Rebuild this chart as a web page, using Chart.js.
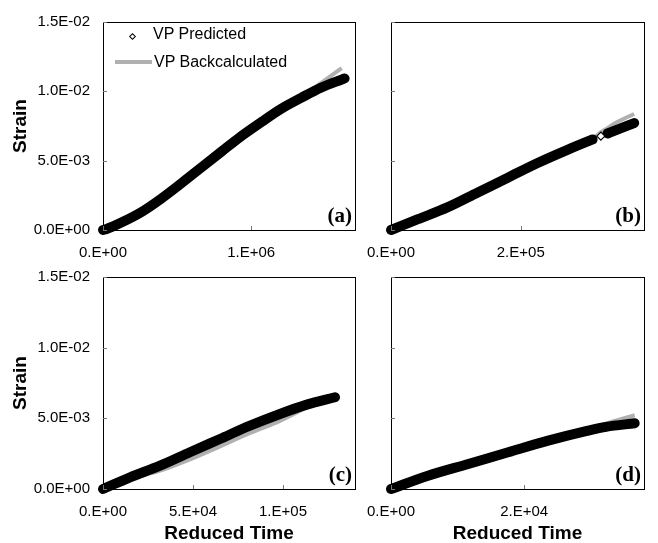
<!DOCTYPE html>
<html>
<head>
<meta charset="utf-8">
<script src="https://cdn.jsdelivr.net/npm/chart.js@4.4.1/dist/chart.umd.min.js"></script>
<style>
  html, body { margin: 0; padding: 0; background: #fff; }
  #wrap { position: relative; width: 658px; height: 543px; overflow: hidden;
          font-family: "Liberation Sans", Arial, sans-serif; color: #000; }
  .layer { position: absolute; left: 0; top: 0; width: 658px; height: 543px; }
  .tag { position: absolute; font: bold 21px "Liberation Serif", "Times New Roman", serif; line-height: 1; }
  .leg { position: absolute; font-size: 16px; line-height: 16px; white-space: nowrap; }
  .diamond { position: absolute; width: 3px; height: 3px; border: 1px solid #000; background: #fff;
             transform: rotate(45deg); }
  .greyline { position: absolute; height: 4px; background: #b0b0b0; }
</style>
</head>
<body>
<div id="wrap">
  <div class="layer"><canvas id="chartA"></canvas></div>
  <div class="layer"><canvas id="chartB"></canvas></div>
  <div class="layer"><canvas id="chartC"></canvas></div>
  <div class="layer"><canvas id="chartD"></canvas></div>

  <!-- legend (inside panel a) -->
  <div class="diamond" style="left:130px; top:34px;"></div>
  <div class="leg" style="left:153px; top:26px;">VP Predicted</div>
  <div class="greyline" style="left:115px; top:60px; width:37px;"></div>
  <div class="leg" style="left:154px; top:54px;">VP Backcalculated</div>

  <div class="tag" style="right:306px; top:205px;">(a)</div>
  <div class="tag" style="right:17px;  top:205px;">(b)</div>
  <div class="tag" style="right:306px; top:464px;">(c)</div>
  <div class="tag" style="right:17px;  top:464px;">(d)</div>
</div>

<script>
/* ══════════════════════════════
   DATA
══════════════════════════════ */
const strainTicks = [0, 0.005, 0.010, 0.015];

// (a)
const timeA  = [0, 2.0e4, 1.2e5, 2.6e5, 3.9e5, 5.3e5, 6.6e5, 8.0e5, 9.3e5, 1.07e6, 1.20e6, 1.34e6, 1.47e6, 1.61e6, 1.63e6];
const predA  = [0, 6e-5, 5.2e-4, 1.30e-3, 2.24e-3, 3.38e-3, 4.48e-3, 5.66e-3, 6.75e-3, 7.80e-3, 8.73e-3, 9.55e-3, 1.026e-2, 1.085e-2, 1.093e-2];
const backA  = [0, 6e-5, 5.2e-4, 1.30e-3, 2.24e-3, 3.38e-3, 4.48e-3, 5.66e-3, 6.75e-3, 7.80e-3, 8.73e-3, 9.62e-3, 1.060e-2, 1.168e-2, null];
const xTicksA = [0, 1e6];

// (b)  (index 8 = the lone open diamond in the gap)
const timeB  = [0, 4.15e4, 8.77e4, 1.338e5, 1.80e5, 2.26e5, 2.72e5, 3.108e5, 3.235e5, 3.338e5, 3.44e5, 3.749e5];
const predB  = [0, 7.8e-4, 1.65e-3, 2.71e-3, 3.77e-3, 4.83e-3, 5.78e-3, 6.53e-3, 6.77e-3, 6.96e-3, 7.15e-3, 7.71e-3];
const backB  = [0, 7.8e-4, 1.65e-3, 2.71e-3, 3.77e-3, 4.83e-3, 5.78e-3, 6.58e-3, 7.05e-3, 7.35e-3, 7.67e-3, 8.37e-3];
const xTicksB = [0, 2e5];

// (c)
const timeC  = [0, 1.5e4, 3.17e4, 4.83e4, 6.5e4, 8.17e4, 9.83e4, 1.132e5, 1.289e5];
const predC  = [0, 8.3e-4, 1.65e-3, 2.60e-3, 3.54e-3, 4.48e-3, 5.31e-3, 5.97e-3, 6.49e-3];
const backC  = [0, 7.0e-4, 1.30e-3, 2.10e-3, 3.02e-3, 3.96e-3, 4.82e-3, 5.75e-3, 6.47e-3];
const xTicksC = [0, 5e4, 1e5];

// (d)
const timeD  = [0, 5.56e3, 1.16e4, 1.76e4, 2.36e4, 2.96e4, 3.23e4, 3.66e4];
const predD  = [0, 9.4e-4, 1.77e-3, 2.60e-3, 3.42e-3, 4.13e-3, 4.40e-3, 4.65e-3];
const backD  = [0, 9.0e-4, 1.72e-3, 2.52e-3, 3.36e-3, 4.16e-3, 4.62e-3, 5.22e-3];
const xTicksD = [0, 2e4];

/* ══════════════════════════════
   HELPERS
══════════════════════════════ */
const FONT = '"Liberation Sans", Arial, sans-serif';
const W = 658, H = 543;

// "1.E+06" style
function fmtTime(v) {
  if (v === 0) return '0.E+00';
  const e = Math.floor(Math.log10(v) + 1e-9);
  const m = Math.round(v / Math.pow(10, e));
  return m + '.E' + (e < 0 ? '-' : '+') + String(Math.abs(e)).padStart(2, '0');
}
// "1.5E-02" style
function fmtStrain(v) {
  if (Math.abs(v) < 1e-12) return '0.0E+00';
  const [m, e] = v.toExponential(1).split('e');
  const n = parseInt(e, 10);
  return m + 'E' + (n < 0 ? '-' : '+') + String(Math.abs(n)).padStart(2, '0');
}

// box + inside tick marks
const framePlugin = {
  id: 'frame',
  afterDraw(chart) {
    const { ctx, chartArea: a, scales: { x, y } } = chart;
    ctx.save();
    ctx.strokeStyle = '#000';
    ctx.lineWidth = 1;
    ctx.strokeRect(Math.round(a.left) + 0.5, Math.round(a.top) + 0.5,
                   Math.round(a.right - a.left), Math.round(a.bottom - a.top));
    ctx.strokeStyle = '#777';
    ctx.beginPath();
    x.ticks.forEach(t => {
      const px = Math.round(x.getPixelForValue(t.value)) + 0.5;
      ctx.moveTo(px, a.bottom); ctx.lineTo(px, a.bottom - 4);
    });
    y.ticks.forEach(t => {
      const py = Math.round(y.getPixelForValue(t.value)) + 0.5;
      ctx.moveTo(a.left, py); ctx.lineTo(a.left + 4, py);
    });
    ctx.stroke();
    ctx.restore();
  }
};

function makePanel(id, area, xMax, xTicks, time, pred, back, showY, showX, gapIdx) {
  const yW = showY ? area.left : 20;
  const xH = showX ? H - area.bottom : 40;
  const hidden = i => gapIdx != null && i === gapIdx;

  new Chart(document.getElementById(id), {
    type: 'line',
    data: {
      datasets: [
        {
          label: 'VP Predicted',
          data: time.map((t, i) => ({ x: t, y: pred[i] })),
          borderColor: '#000',
          borderWidth: 10,
          borderCapStyle: 'round',
          borderJoinStyle: 'round',
          cubicInterpolationMode: 'monotone',
          pointStyle: 'rectRot',
          pointRadius: ctx => hidden(ctx.dataIndex) ? 4 : 0,
          pointBackgroundColor: '#fff',
          pointBorderColor: '#000',
          pointBorderWidth: 1.2,
          segment: {
            borderColor: ctx => (hidden(ctx.p0DataIndex) || hidden(ctx.p1DataIndex)) ? 'rgba(0,0,0,0)' : undefined
          },
          clip: false,
          order: 1
        },
        {
          label: 'VP Backcalculated',
          data: time.map((t, i) => ({ x: t, y: back[i] })),
          borderColor: '#b0b0b0',
          borderWidth: 4,
          cubicInterpolationMode: 'monotone',
          pointRadius: 0,
          order: 2
        }
      ]
    },
    options: {
      responsive: true,
      maintainAspectRatio: false,
      animation: false,
      events: [],
      layout: {
        padding: {
          left: area.left - yW,
          top: area.top,
          right: W - area.right,
          bottom: H - area.bottom - xH
        }
      },
      plugins: { legend: { display: false }, tooltip: { enabled: false } },
      scales: {
        x: {
          type: 'linear',
          min: 0,
          max: xMax,
          grid: { display: false, drawTicks: false },
          border: { display: false },
          afterBuildTicks: s => { s.ticks = xTicks.map(v => ({ value: v })); },
          afterFit: s => { s.height = xH; },
          ticks: {
            padding: 14, color: '#000', maxRotation: 0, autoSkip: false,
            font: { size: 15, family: FONT },
            callback: v => fmtTime(v)
          },
          title: {
            display: showX, text: 'Reduced Time', color: '#000', padding: 0,
            font: { size: 19, weight: 'bold', family: FONT, lineHeight: 1 }
          }
        },
        y: {
          type: 'linear',
          min: 0,
          max: 0.015,
          grid: { display: false, drawTicks: false },
          border: { display: false },
          afterBuildTicks: s => { s.ticks = strainTicks.map(v => ({ value: v })); },
          afterFit: s => { s.width = yW; },
          ticks: {
            padding: 13, color: '#000', autoSkip: false,
            font: { size: 15, family: FONT },
            callback: v => showY ? fmtStrain(v) : ''
          },
          title: {
            display: showY, text: 'Strain', color: '#000', padding: { top: 9, bottom: 0 },
            font: { size: 19, weight: 'bold', family: FONT }
          }
        }
      }
    },
    plugins: [framePlugin]
  });
}

/* ══════════════════════════════
   PANELS
══════════════════════════════ */
makePanel('chartA', { left: 103, top: 18,  right: 355, bottom: 230 }, 1.7e6, xTicksA, timeA, predA, backA, true,  false, null);
makePanel('chartB', { left: 391, top: 18,  right: 644, bottom: 230 }, 3.9e5, xTicksB, timeB, predB, backB, false, false, 8);
makePanel('chartC', { left: 103, top: 277, right: 355, bottom: 489 }, 1.4e5, xTicksC, timeC, predC, backC, true,  true,  null);
makePanel('chartD', { left: 391, top: 277, right: 644, bottom: 489 }, 3.8e4, xTicksD, timeD, predD, backD, false, true,  null);
</script>
</body>
</html>
